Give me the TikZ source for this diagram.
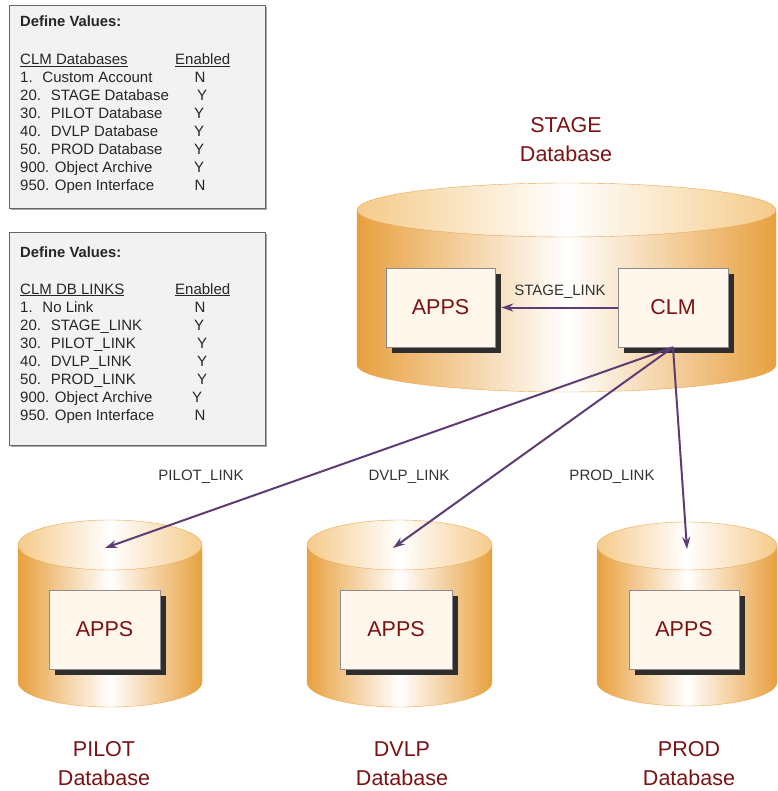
\documentclass[tikz,border=0pt]{standalone}
\usepackage{fontspec}
\setmainfont{Liberation Sans}
\usetikzlibrary{arrows.meta,shadows}

\definecolor{dbdark}{RGB}{232,160,62}
\definecolor{dbtop}{RGB}{245,203,138}
\definecolor{dbline}{RGB}{234,168,80}
\definecolor{dbred}{RGB}{122,18,20}
\definecolor{linkpurple}{RGB}{94,60,116}
\definecolor{boxgray}{RGB}{242,242,242}
\definecolor{appcream}{RGB}{255,246,236}

% cylinder: centre x, top y, bottom y, x radius, y radius
\newcommand{\drawdb}[5]{%
  \shade[left color=dbdark,right color=dbdark,middle color=white,draw=dbline]
    (#1-#4,#2) -- (#1-#4,#3) arc[start angle=180,end angle=0,x radius=#4,y radius=#5]
    -- (#1+#4,#2) -- cycle;
  \shade[left color=dbtop,right color=dbtop,middle color=white,draw=dbline]
    (#1,#2) ellipse[x radius=#4,y radius=#5];
}

\begin{document}
\begin{tikzpicture}[x=1pt,y=-1pt,font=\fontsize{15}{17}\selectfont]
    \tikzstyle{valbox}=[draw=black!60,fill=boxgray,line width=0.8pt,
        drop shadow={shadow xshift=2pt,shadow yshift=-2pt,fill=black!35,opacity=1}]
    \tikzstyle{valtext}=[anchor=base west,inner sep=0pt,text=black!85]
    \tikzstyle{appbox}=[draw=black!45,fill=appcream,line width=0.6pt,
        minimum height=79,text=dbred,font=\fontsize{21.5}{25}\selectfont,
        drop shadow={shadow xshift=6pt,shadow yshift=-6pt,fill=black!82,opacity=1}]
    \tikzstyle{dbtitle}=[align=center,text=dbred,font=\fontsize{21.5}{29}\selectfont]
    \tikzstyle{linklabel}=[text=black!80,inner sep=1pt]
    \tikzstyle{link}=[draw=linkpurple,line width=2pt,-{Stealth[length=12pt,width=8pt]}]

    \useasboundingbox (0,0) rectangle (777,791);

    % value tables
    \node[valbox,minimum width=256,minimum height=203] (vals-db) at (137,106.5) {};
    \node[valbox,minimum width=256,minimum height=213] (vals-link) at (137,338.5) {};

    \node[valtext,font=\fontsize{14.8}{17}\selectfont\bfseries] (db-head) at (20,27) {Define Values:};
    \node[valtext] (db-col1) at (20,65) {\underline{CLM Databases}};
    \node[valtext] (db-col2) at (175,65) {\underline{Enabled}};
    \foreach \txt/\en/\ex [count=\i] in {1.~ Custom Account/N/200,20.~ STAGE Database/Y/202,
        30.~ PILOT Database/Y/199,40.~ DVLP Database/Y/199,50.~ PROD Database/Y/199,
        900. Object Archive/Y/199,950. Open Interface/N/200}
    {
        \node[valtext] (db-\i) at (20,{65+18*\i}) {\txt};
        \node[valtext,anchor=base] (db-en-\i) at (\ex,{65+18*\i}) {\en};
    }

    \node[valtext,font=\fontsize{14.8}{17}\selectfont\bfseries] (link-head) at (20,258) {Define Values:};
    \node[valtext] (link-col1) at (20,294) {\underline{CLM DB LINKS}};
    \node[valtext] (link-col2) at (175,294) {\underline{Enabled}};
    \foreach \txt/\en/\ex [count=\i] in {1.~ No Link/N/200,20.~ STAGE\_LINK/Y/199,
        30.~ PILOT\_LINK/Y/202,40.~ DVLP\_LINK/Y/202,50.~ PROD\_LINK/Y/202,
        900. Object Archive/Y/197,950. Open Interface/N/200}
    {
        \node[valtext] (link-\i) at (20,{294+18*\i}) {\txt};
        \node[valtext,anchor=base] (link-en-\i) at (\ex,{294+18*\i}) {\en};
    }

    % databases
    \drawdb{566.5}{210}{365}{209.5}{27}
    \drawdb{110}{545}{682}{92}{25}
    \drawdb{399.5}{545}{682}{92.5}{25}
    \drawdb{687}{546}{682}{90}{24}

    \node[appbox,minimum width=109] (stage-apps) at (440.5,307.5) {APPS};
    \node[appbox,minimum width=110] (clm) at (673,307.5) {CLM};
    \node[appbox,minimum width=111] (pilot-apps) at (104.5,629.5) {APPS};
    \node[appbox,minimum width=112] (dvlp-apps) at (396,629.5) {APPS};
    \node[appbox,minimum width=110] (prod-apps) at (684,629.5) {APPS};

    \node[dbtitle] (stage-title) at (566,139.5) {STAGE\\Database};
    \node[dbtitle] (pilot-title) at (104,763.5) {PILOT\\Database};
    \node[dbtitle] (dvlp-title) at (402,763.5) {DVLP\\Database};
    \node[dbtitle] (prod-title) at (689,763.5) {PROD\\Database};

    % links
    \coordinate (pilot-in) at (105,548);
    \coordinate (dvlp-in) at (393,548);
    \coordinate (prod-in) at (687,549);

    \draw[link,shorten >=6pt] (clm.west) -- (stage-apps.east);
    \foreach \dest in {pilot,dvlp,prod}
        \draw[link] (clm.south) -- (\dest-in);

    \node[linklabel] (stage-link) at (560,292) {STAGE\_LINK};
    \node[linklabel] (pilot-link) at (201,477) {PILOT\_LINK};
    \node[linklabel] (dvlp-link) at (409,477) {DVLP\_LINK};
    \node[linklabel] (prod-link) at (612,477) {PROD\_LINK};
\end{tikzpicture}
\end{document}
